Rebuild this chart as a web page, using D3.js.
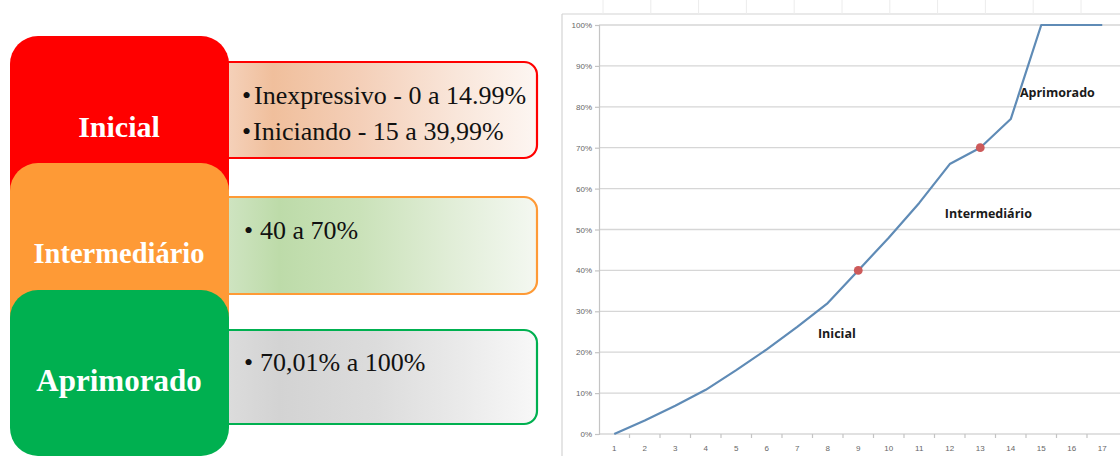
<!DOCTYPE html>
<html>
<head>
<meta charset="utf-8">
<script src="https://cdn.jsdelivr.net/npm/d3@7"></script>
<style>
  body { margin: 0; background: #ffffff; }
  svg { display: block; }
</style>
</head>
<body>
<svg id="chart" width="1120" height="456"></svg>
<script>
// ---- Data ----
const levels = ["Inicial", "Intermediário", "Aprimorado"];
const levelColors = ["#ff0000", "#fe9a36", "#00b050"];
const levelRanges = [
  ["Inexpressivo - 0 a 14.99%", "Iniciando - 15 a 39,99%"],
  ["40 a 70%"],
  ["70,01% a 100%"]
];
const steps = [1, 2, 3, 4, 5, 6, 7, 8, 9, 10, 11, 12, 13, 14, 15, 16, 17];
const progress = [0, 3.3, 6.9, 10.8, 15.6, 20.7, 26.2, 32, 40, 48, 56.5, 66, 70, 77, 100, 100, 100];
const yTicks = [0, 10, 20, 30, 40, 50, 60, 70, 80, 90, 100];
const thresholdSteps = [9, 13];
const thresholdValues = [40, 70];
const zoneNames = ["Inicial", "Intermediário", "Aprimorado"];

const svg = d3.select("#chart");
const defs = svg.append("defs");

// ---- Left panel: level blocks with their ranges ----
const gradStops = [
  [["0", "#f6d6c2"], ["0.18", "#f0bf9c"], ["0.45", "#f4cfb8"], ["0.75", "#f9e6da"], ["1", "#fdf6f2"]],
  [["0", "#d3e6c7"], ["0.2", "#bddba9"], ["0.45", "#cae2b9"], ["0.75", "#e2eed9"], ["1", "#f4f8f1"]],
  [["0", "#dedede"], ["0.2", "#d3d3d3"], ["0.5", "#dcdcdc"], ["0.78", "#ebebeb"], ["1", "#f8f8f8"]]
];
gradStops.forEach((stops, i) => {
  const g = defs.append("linearGradient").attr("id", "rangeFill" + i)
    .attr("x1", "0").attr("y1", "0").attr("x2", "1").attr("y2", "0");
  stops.forEach(s => g.append("stop").attr("offset", s[0]).attr("stop-color", s[1]));
});

const panelTop = [62, 197, 330];
const panelH = [96, 97, 94];
const blockTop = [36, 163, 290];
const blockH = [200, 190, 166];
const titleBase = [137, 263, 391];
const titleSize = [30, 28.5, 31];

const left = svg.append("g");

// range panels (drawn first so the blocks cover their left ends)
levels.forEach((lv, i) => {
  left.append("rect")
    .attr("x", 215).attr("y", panelTop[i])
    .attr("width", 322).attr("height", panelH[i])
    .attr("rx", 13).attr("ry", 13)
    .attr("fill", `url(#rangeFill${i})`)
    .attr("stroke", levelColors[i]).attr("stroke-width", 2.2);
});

// coloured level blocks, each one overlapping the previous
levels.forEach((lv, i) => {
  left.append("rect")
    .attr("x", 10).attr("y", blockTop[i])
    .attr("width", 219).attr("height", blockH[i])
    .attr("rx", 28).attr("ry", 28)
    .attr("fill", levelColors[i]);
  left.append("text")
    .attr("x", 119).attr("y", titleBase[i])
    .attr("text-anchor", "middle")
    .attr("font-family", "'Liberation Serif', 'Times New Roman', serif")
    .attr("font-weight", "bold")
    .attr("font-size", titleSize[i])
    .attr("fill", "#ffffff")
    .text(lv);
});

// bullet lines inside the panels
const lineLayout = [
  [{b: 242, t: 254, y: 104}, {b: 242, t: 253, y: 140}],
  [{b: 244, t: 260, y: 239}],
  [{b: 244, t: 260, y: 371}]
];
levelRanges.forEach((lines, i) => {
  lines.forEach((txt, j) => {
    const p = lineLayout[i][j];
    const serif = "'Liberation Serif', 'Times New Roman', serif";
    left.append("text").attr("x", p.b).attr("y", p.y)
      .attr("font-family", serif).attr("font-size", 26).attr("fill", "#111")
      .text("•");
    left.append("text").attr("x", p.t).attr("y", p.y)
      .attr("font-family", serif).attr("font-size", 26).attr("fill", "#111")
      .text(txt);
  });
});

// ---- Right panel: progress line chart ----
const plot = {left: 599, right: 1117.5, top: 25, bottom: 434};

// chart frame and faint sheet cell lines above it
const frame = svg.append("g");
frame.append("line").attr("x1", 562).attr("x2", 562).attr("y1", 14).attr("y2", 456)
  .attr("stroke", "#d4d4d4").attr("stroke-width", 1.2);
frame.append("line").attr("x1", 562).attr("x2", 1120).attr("y1", 14).attr("y2", 14)
  .attr("stroke", "#d4d4d4").attr("stroke-width", 1.2);
d3.range(603, 1120, 47.8).forEach(xv => {
  frame.append("line").attr("x1", xv).attr("x2", xv).attr("y1", 0).attr("y2", 14)
    .attr("stroke", "#ececec").attr("stroke-width", 1);
});

const x = d3.scaleBand().domain(steps).range([plot.left, plot.right]).padding(0);
const y = d3.scaleLinear().domain([0, 100]).range([plot.bottom, plot.top]);
const bw = x.bandwidth();
const cx = s => x(steps[0]) + bw / 2 + (s - steps[0]) * bw;

// horizontal gridlines
svg.append("g").selectAll("line").data(yTicks.filter(v => v > 0)).join("line")
  .attr("x1", plot.left).attr("x2", 1120)
  .attr("y1", d => y(d)).attr("y2", d => y(d))
  .attr("stroke", "#d6d6d6").attr("stroke-width", 1.3);

// y axis
const yAxis = svg.append("g").attr("transform", `translate(${plot.left},0)`)
  .call(d3.axisLeft(y).tickValues(yTicks).tickFormat(d => d + "%").tickSize(4).tickPadding(3));
yAxis.select(".domain").attr("stroke", "#c4c4c4").attr("stroke-width", 1.2);
yAxis.selectAll(".tick line").attr("stroke", "#c4c4c4").attr("stroke-width", 1.2);
yAxis.selectAll(".tick text")
  .attr("font-family", "'Liberation Sans', Arial, sans-serif")
  .attr("font-size", 8).attr("fill", "#666666");

// x axis: labels centred on categories, ticks between categories
const xAxis = svg.append("g").attr("transform", `translate(0,${plot.bottom})`)
  .call(d3.axisBottom(x).tickSize(0).tickPadding(11));
xAxis.select(".domain").remove();
xAxis.selectAll(".tick text")
  .attr("font-family", "'Liberation Sans', Arial, sans-serif")
  .attr("font-size", 8).attr("fill", "#666666");
svg.append("line").attr("x1", plot.left).attr("x2", 1120)
  .attr("y1", plot.bottom).attr("y2", plot.bottom)
  .attr("stroke", "#c4c4c4").attr("stroke-width", 1.2);
svg.append("g").selectAll("line").data(steps.slice(1)).join("line")
  .attr("x1", d => x(d)).attr("x2", d => x(d))
  .attr("y1", plot.bottom).attr("y2", plot.bottom + 4)
  .attr("stroke", "#c4c4c4").attr("stroke-width", 1.2);

// progress line
const pts = steps.map((s, i) => [cx(s), y(progress[i])]);
svg.append("path")
  .attr("d", d3.line()(pts))
  .attr("fill", "none")
  .attr("stroke", "#5f8bb6")
  .attr("stroke-width", 2.2)
  .attr("stroke-linejoin", "round");

// threshold markers at 40% and 70%
svg.append("g").selectAll("circle").data(thresholdSteps).join("circle")
  .attr("cx", d => cx(d))
  .attr("cy", (d, i) => y(thresholdValues[i]))
  .attr("r", 4.4)
  .attr("fill", "#cd5a5a");

// zone names placed in data space
const zoneAt = [[7.68, 23.5], [11.84, 52.8], [14.3, 82.4]];
svg.append("g").selectAll("text").data(zoneNames).join("text")
  .attr("x", (d, i) => cx(zoneAt[i][0]))
  .attr("y", (d, i) => y(zoneAt[i][1]))
  .attr("font-family", "'Open Sans', 'Noto Sans', sans-serif")
  .attr("font-weight", 700)
  .attr("font-size", 12.5)
  .attr("fill", "#1a1a1a")
  .text(d => d);
</script>
</body>
</html>
